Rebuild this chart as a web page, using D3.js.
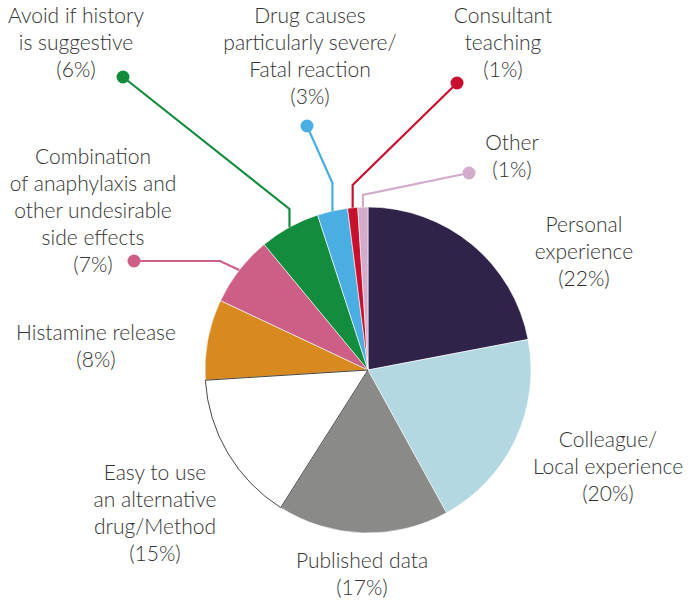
<!DOCTYPE html>
<html><head><meta charset="utf-8">
<script src="https://cdn.jsdelivr.net/npm/d3@7"></script>
<style>
html,body{margin:0;padding:0;background:#fff;}
svg{display:block;}
text{font-family:Lato,"Open Sans",sans-serif;font-weight:300;fill:#333;}
</style></head>
<body>
<svg id="chart" width="689" height="600"></svg>
<script>
// ---- data ----
const categories = ["Personal experience","Colleague/Local experience","Published data","Easy to use an alternative drug/Method","Histamine release","Combination of anaphylaxis and other undesirable side effects","Avoid if history is suggestive","Drug causes particularly severe/Fatal reaction","Consultant teaching","Other"];
const values = [22,20,17,15,8,7,6,3,1,1];
const labelLines = [
  ["Personal","experience"],
  ["Colleague/","Local experience"],
  ["Published data"],
  ["Easy to use","an alternative","drug/Method"],
  ["Histamine release"],
  ["Combination","of anaphylaxis and","other undesirable","side effects"],
  ["Avoid if history","is suggestive"],
  ["Drug causes","particularly severe/","Fatal reaction"],
  ["Consultant","teaching"],
  ["Other"]
];
const colors = ["#2f2349","#b3d8e2","#8a8b88","#ffffff","#d8891f","#cd5f87","#138c3e","#4aaee2","#c8102e","#d3abcb"];

// ---- layout ----
const cx = 368, cy = 370, R = 163;
const labelPos = [ // center x, first baseline y
  [584,232],[608,447],[362,568],[155,480],[96,340],[93,164],[76,23],[310,23],[503,23],[512,150]
];
const leaders = {
  5:{elbow:[220,261],dot:[134,261],vertical:false},
  6:{elbowY:209,dot:[123,77],vertical:true},
  7:{elbowY:183,dot:[307,126],vertical:true},
  8:{elbowY:185,dot:[457,83],vertical:true},
  9:{elbowY:195,dot:[469,173],vertical:true}
};
const lineH = 27;

const svg = d3.select("#chart");
const g = svg.append("g").attr("transform",`translate(${cx},${cy})`);
const pie = d3.pie().sort(null).value(d=>d).startAngle(0).endAngle(2*Math.PI);
const arcs = pie(values);
const arc = d3.arc().innerRadius(0).outerRadius(R);

g.selectAll("path.slice").data(arcs).join("path")
  .attr("class","slice")
  .attr("d",arc)
  .attr("fill",(d,i)=>colors[i])
  .attr("stroke","#fff")
  .attr("stroke-width",0.6);
g.append("path").attr("d",arc(arcs[3])).attr("fill","none").attr("stroke","#333").attr("stroke-width",0.9);

Object.keys(leaders).forEach(k=>{
  const i=+k, L=leaders[k], a=arcs[i];
  const mid=(a.startAngle+a.endAngle)/2;
  const ax=cx+R*Math.sin(mid), ay=cy-R*Math.cos(mid);
  const pts = L.vertical ? [[ax,ay],[ax,L.elbowY],L.dot] : [[ax,ay],L.elbow,L.dot];
  svg.append("path").attr("d",d3.line()(pts)).attr("fill","none")
    .attr("stroke",colors[i]).attr("stroke-width",2.2);
  svg.append("circle").attr("cx",L.dot[0]).attr("cy",L.dot[1]).attr("r",6.5).attr("fill",colors[i]);
});

labelLines.forEach((lines,i)=>{
  const all = lines.concat([`(${values[i]}%)`]);
  const t = svg.append("text").attr("text-anchor","middle").attr("font-size",21);
  all.forEach((s,j)=>{
    t.append("tspan").attr("x",labelPos[i][0]).attr("y",labelPos[i][1]+j*lineH).text(s);
  });
});
</script>
</body></html>
